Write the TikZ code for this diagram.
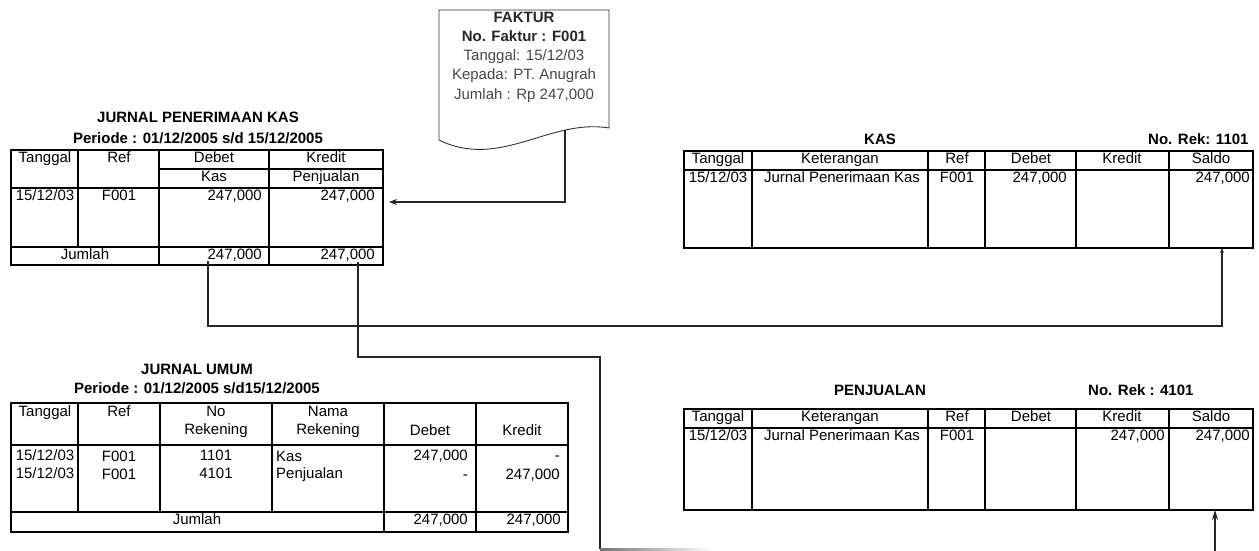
\documentclass[tikz,border=0pt]{standalone}
\usepackage{fontspec}
\setmainfont{Liberation Sans}
\usetikzlibrary{arrows.meta}
\begin{document}
\begin{tikzpicture}[x=1pt,y=-1pt,
  tb/.style={line width=1.9pt,black},
  frame/.style={draw,line width=1.9pt,inner sep=0pt,outer sep=0pt,anchor=north west},
  txt/.style={font=\fontsize{15}{17}\selectfont,inner sep=0pt,anchor=mid},
  ttl/.style={font=\fontsize{15}{17}\selectfont\bfseries,inner sep=0pt,anchor=mid},
  rt/.style={txt,anchor=mid east},
  lt/.style={txt,anchor=mid west},
  conn/.style={line width=1.1pt,black!85},
  fk/.style={font=\fontsize{15}{17}\selectfont,inner sep=0pt,anchor=mid,text=black!72},
  fkb/.style={font=\fontsize{15}{17}\selectfont\bfseries,inner sep=0pt,anchor=mid,text=black!85}
]
\useasboundingbox (0,0) rectangle (1259,551);

% ---------------- FAKTUR document ----------------
\draw[line width=0.9pt,black!80] (439,10) -- (609,10) -- (609,128)
   .. controls (550,118) and (500,170) .. (439,140) -- cycle;
\node[fkb] (f1) at (524,20) {FAKTUR};
\node[fkb] (f2) at (524,39) {No. Faktur : F001};
\node[fk]  (f3) at (524,58) {Tanggal: 15/12/03};
\node[fk]  (f4) at (524,77) {Kepada: PT. Anugrah};
\node[fk]  (f5) at (524,97) {Jumlah : Rp 247,000};
\coordinate (fb) at (565,130);
\coordinate (fa) at (389,202);

% ---------------- JURNAL PENERIMAAN KAS ----------------
\node[ttl] (jpkT) at (198,120) {JURNAL PENERIMAAN KAS};
\node[ttl] (jpkP) at (198,141) {Periode : 01/12/2005 s/d 15/12/2005};
\node[frame,minimum width=372pt,minimum height=115pt] (jpk) at (11,150) {};
\draw[tb] (78,150) -- (78,247);
\draw[tb] (159,150) -- (159,265);
\draw[tb] (269,150) -- (269,265);
\draw[tb] (159,169) -- (383,169);
\draw[tb] (11,188) -- (383,188);
\draw[tb] (11,247) -- (383,247);
\draw[line width=2.6pt] (205,247) -- (263,247);
\node[txt] (j1) at (45,160) {Tanggal};
\node[txt] (j2) at (119,160) {Ref};
\node[txt] (j3) at (214,160) {Debet};
\node[txt] (j4) at (326,160) {Kredit};
\node[txt] (j5) at (214,179) {Kas};
\node[txt] (j6) at (326,179) {Penjualan};
\node[txt] (j7) at (45,198) {15/12/03};
\node[txt] (j8) at (119,198) {F001};
\node[rt]  (j9) at (262,198) {247,000};
\node[rt]  (j10) at (375,198) {247,000};
\node[txt] (j11) at (85,257) {Jumlah};
\node[rt]  (j12) at (262,257) {247,000};
\node[rt]  (j13) at (375,257) {247,000};

% ---------------- KAS ----------------
\node[ttl] (kasT) at (880,142) {KAS};
\node[ttl,anchor=mid west] (kasN) at (1148,142) {No. Rek: 1101};
\node[frame,minimum width=569pt,minimum height=97pt] (kas) at (684,151) {};
\foreach \x in {752,928,985,1076,1169} \draw[tb] (\x,151) -- (\x,248);
\draw[tb] (684,170) -- (1253,170);
\node[txt] (k1) at (718,161) {Tanggal};
\node[txt] (k2) at (840,161) {Keterangan};
\node[txt] (k3) at (957,161) {Ref};
\node[txt] (k4) at (1031,161) {Debet};
\node[txt] (k5) at (1122,161) {Kredit};
\node[txt] (k6) at (1211,161) {Saldo};
\node[txt] (k7) at (718,180) {15/12/03};
\node[txt] (k8) at (842,180) {Jurnal Penerimaan Kas};
\node[txt] (k9) at (957,180) {F001};
\node[rt]  (k10) at (1067,180) {247,000};
\node[rt]  (k11) at (1250,180) {247,000};

% ---------------- JURNAL UMUM ----------------
\node[ttl] (juT) at (197,372) {JURNAL UMUM};
\node[ttl] (juP) at (197,391) {Periode : 01/12/2005 s/d15/12/2005};
\node[frame,minimum width=557pt,minimum height=129pt] (ju) at (11,403) {};
\foreach \x in {78,160,272} \draw[tb] (\x,403) -- (\x,512);
\foreach \x in {384,476} \draw[tb] (\x,403) -- (\x,532);
\draw[tb] (11,445) -- (568,445);
\draw[tb] (11,512) -- (568,512);
\node[txt] (u1) at (45,414) {Tanggal};
\node[txt] (u2) at (119,414) {Ref};
\node[txt] (u3) at (216,414) {No};
\node[txt] (u4) at (216,432) {Rekening};
\node[txt] (u5) at (328,414) {Nama};
\node[txt] (u6) at (328,432) {Rekening};
\node[txt] (u7) at (430,433) {Debet};
\node[txt] (u8) at (522,433) {Kredit};
\node[txt] (u9) at (45,458) {15/12/03};
\node[txt] (u10) at (119,459) {F001};
\node[txt] (u11) at (216,458) {1101};
\node[lt]  (u12) at (276,459) {Kas};
\node[rt]  (u13) at (468,458) {247,000};
\node[rt]  (u14) at (560,458) {-};
\node[txt] (u15) at (45,476) {15/12/03};
\node[txt] (u16) at (119,477) {F001};
\node[txt] (u17) at (216,476) {4101};
\node[lt]  (u18) at (276,476) {Penjualan};
\node[rt]  (u19) at (468,477) {-};
\node[rt]  (u20) at (560,477) {247,000};
\node[txt] (u21) at (197,522) {Jumlah};
\node[rt]  (u22) at (468,522) {247,000};
\node[rt]  (u23) at (561,522) {247,000};

% ---------------- PENJUALAN ----------------
\node[ttl] (pjT) at (880,393) {PENJUALAN};
\node[ttl,anchor=mid west] (pjN) at (1088,393) {No. Rek : 4101};
\node[frame,minimum width=569pt,minimum height=101pt] (pj) at (684,409) {};
\foreach \x in {752,928,985,1076,1169} \draw[tb] (\x,409) -- (\x,510);
\draw[tb] (684,428) -- (1253,428);
\node[txt] (p1) at (718,419) {Tanggal};
\node[txt] (p2) at (840,419) {Keterangan};
\node[txt] (p3) at (957,419) {Ref};
\node[txt] (p4) at (1031,419) {Debet};
\node[txt] (p5) at (1122,419) {Kredit};
\node[txt] (p6) at (1211,419) {Saldo};
\node[txt] (p7) at (718,438) {15/12/03};
\node[txt] (p8) at (842,438) {Jurnal Penerimaan Kas};
\node[txt] (p9) at (957,438) {F001};
\node[rt]  (p10) at (1165,438) {247,000};
\node[rt]  (p11) at (1250,438) {247,000};

% ---------------- connectors ----------------
\draw[conn,-{Stealth[length=8pt,width=6pt]}] (fb) |- (fa);

\coordinate (c1) at (208,326);
\coordinate (c2) at (1222,326);
\draw[conn,-{Stealth[length=5pt,width=4pt]}] ([yshift=4pt]jpk.south -| c1) -- (c1) -- (c2) -- (kas.south -| c2);

\coordinate (d1) at (358,357);
\coordinate (d2) at (600,357);
\coordinate (d3) at (600,549);
\draw[conn] ([yshift=3pt]jpk.south -| d1) -- (d1) -- (d2) -- (d3);
\fill[left color=black!55,right color=white] (600,548) rectangle (712,550.5);

\coordinate (e1) at (1215,551);
\draw[conn,-{Stealth[length=10pt,width=6pt]}] (e1) -- (pj.south -| e1);
\end{tikzpicture}
\end{document}
